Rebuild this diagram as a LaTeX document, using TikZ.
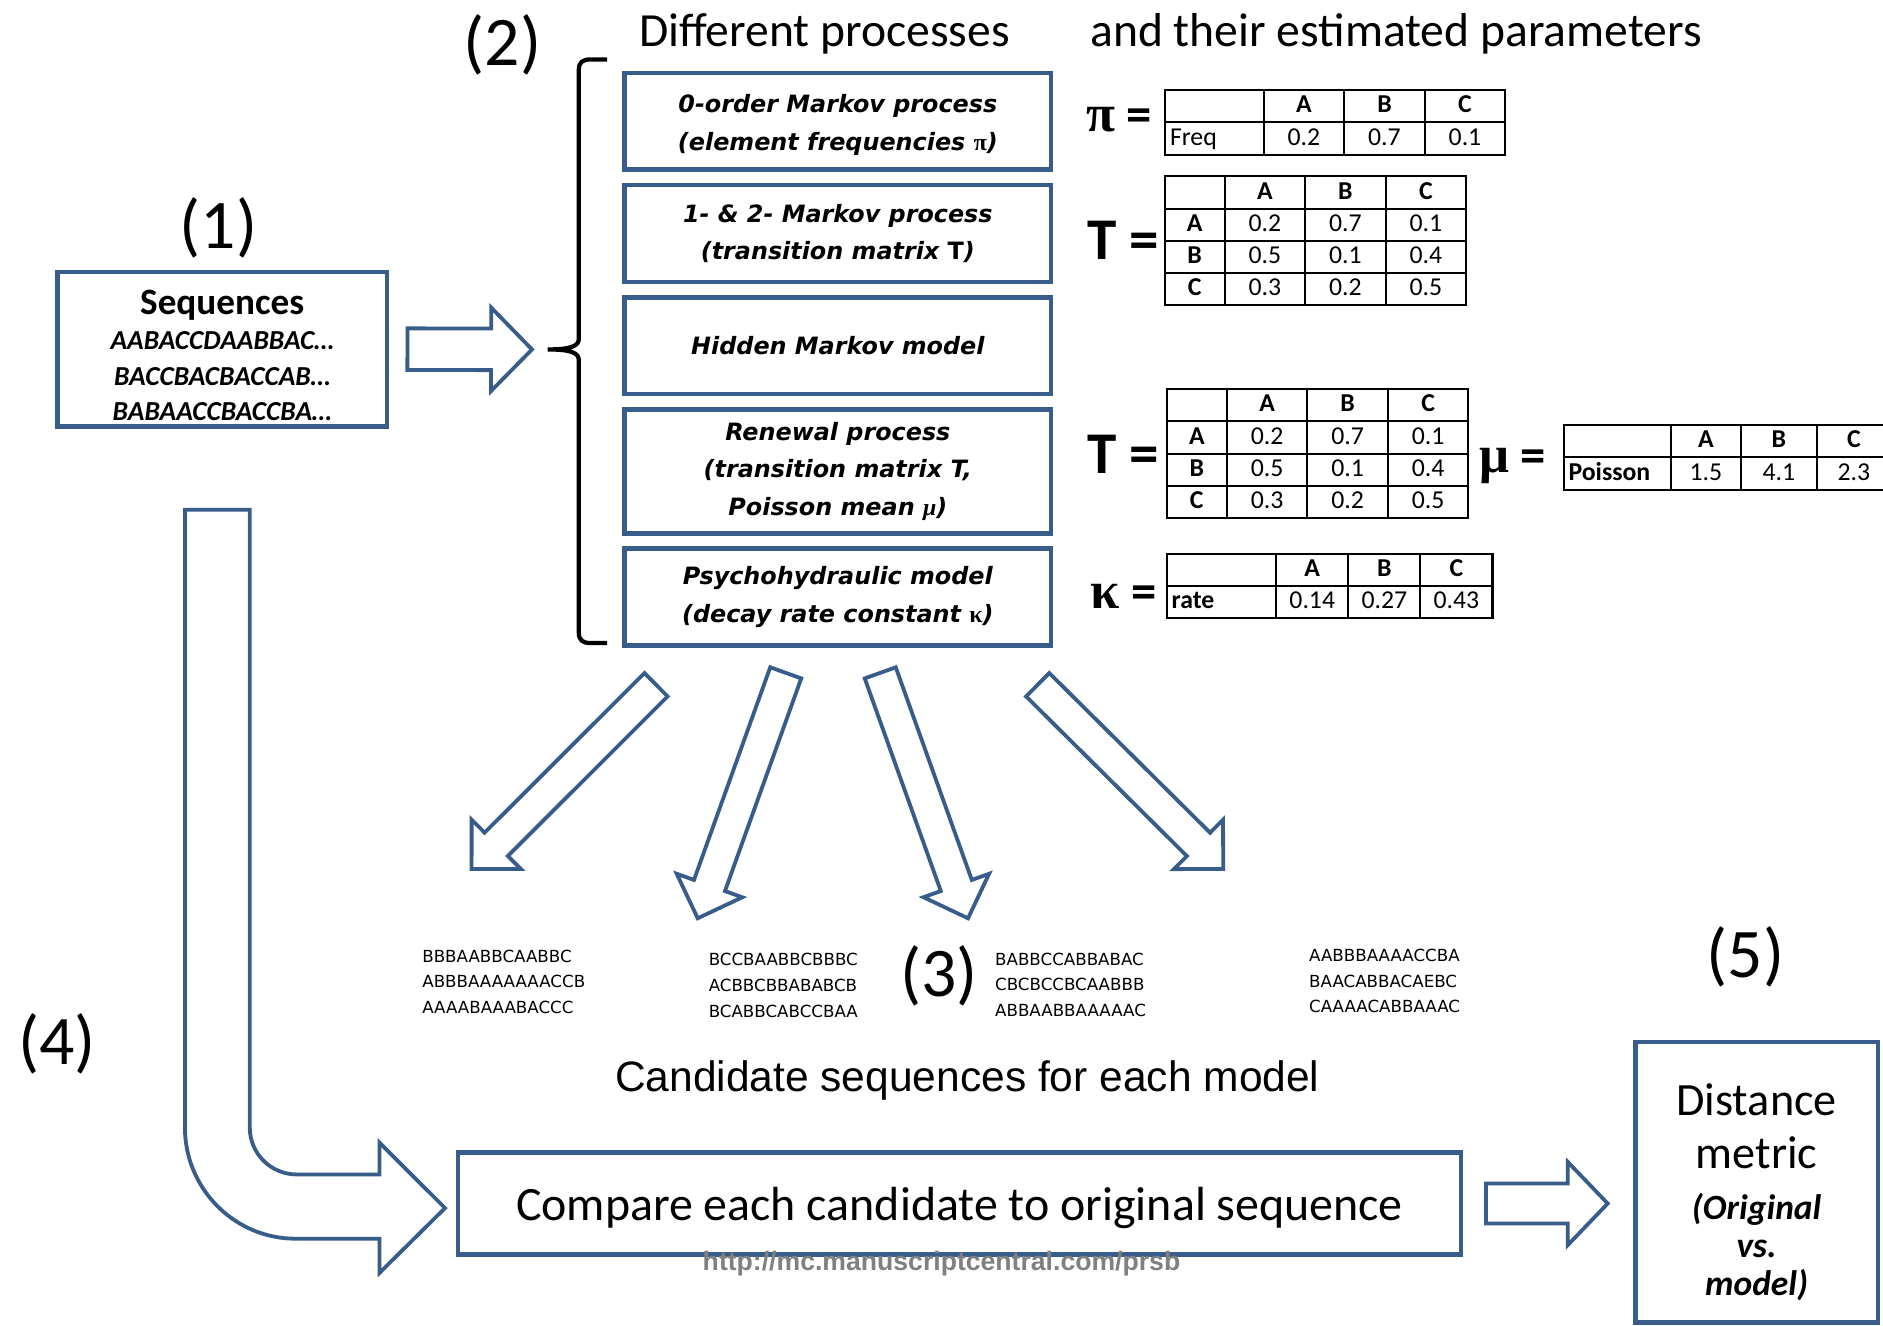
\documentclass[tikz,border=0pt]{standalone}
\usepackage{fontspec}
\setmainfont{Carlito}
\newfontfamily\verd{DejaVu Sans}
\newfontfamily\lsans{Liberation Sans}
\newfontfamily\serf{Liberation Serif}
\usetikzlibrary{positioning,calc,matrix}

\definecolor{boxblue}{RGB}{56,93,138}
\newcommand\tabfont{\fontsize{6.1}{7}\selectfont}
% block arrow: tail, tip, half shaft, half head, head length
\newcommand\fatarrow[5]{%
  \coordinate (fa) at ($(#2)!#5!(#1)$);
  \draw[fat] ($(#1)!#3!90:(#2)$) -- ($(fa)!#3!-90:(#1)$) -- ($(fa)!#4!-90:(#1)$) -- (#2)
    -- ($(fa)!#4!90:(#1)$) -- ($(fa)!#3!90:(#1)$) -- ($(#1)!#3!-90:(#2)$) -- cycle;}

\begin{document}
\begin{tikzpicture}[
  x=0.01cm, y=-0.01cm,
  box/.style={draw=boxblue, line width=1.1pt, fill=white, align=center, inner sep=0pt},
  proc/.style={box, minimum width=35.5mm, minimum height=8.05mm,
               font=\verd\bfseries\itshape\fontsize{5.65}{8.96}\selectfont},
  fat/.style={draw=boxblue, line width=0.9pt, fill=white, line join=miter},
  lbl/.style={font=\fontsize{16.5}{18}\selectfont, inner sep=0pt},
  head/.style={font=\fontsize{11.27}{13}\selectfont, inner sep=0pt},
  cand/.style={font=\verd\fontsize{3.95}{6.1}\selectfont, align=left, anchor=west, inner sep=0pt},
  eq/.style={anchor=base east, inner sep=0pt, font=\bfseries\fontsize{12}{12}\selectfont},
  tab/.style={matrix of nodes, inner sep=0pt, column sep=-0.5pt, row sep=-0.5pt,
    nodes={draw, line width=0.5pt, outer sep=0pt, inner sep=0pt, inner xsep=0.4mm,
           minimum width=6.7mm, minimum height=2.68mm, text height=1.55mm, text depth=0.45mm,
           font=\tabfont},
    row 1/.style={nodes={font=\tabfont\bfseries}}}]

\useasboundingbox (0,0) rectangle (1568,1104);

\node[head] (dp) at (686.5,28) {Different processes};
\node[head] (ep) at (1162.5,28) {and their estimated parameters};
\node[lbl] (n1) at (182,190) {(1)};
\node[lbl] (n2) at (418.5,37) {(2)};

\node[box, minimum width=27.45mm, minimum height=12.84mm,
      font=\bfseries\itshape\fontsize{6.5}{8.4}\selectfont] (seq) at (185,290.75)
  {{\upshape\fontsize{8.8}{8.4}\selectfont\rule{0pt}{8.8pt}Sequences}\\AABACCDAABBAC…\\BACCBACBACCAB…\\BABAACCBACCBA…};

\node[proc] (p0) at (697.7,101) {\rule{0pt}{6pt}0-order Markov process\\(element frequencies {\serf\upshape π})};
\node[proc, below=0.9mm of p0] (p1) {1- \& 2- Markov process\\(transition matrix {\upshape T})};
\node[proc, below=0.9mm of p1] (hmm) {Hidden Markov model};
\node[proc, below=0.9mm of hmm, minimum height=10.3mm] (ren) {Renewal process\\(transition matrix T,\\Poisson mean {\serf μ})};
\node[proc, below=0.9mm of ren] (psy) {Psychohydraulic model\\(decay rate constant {\serf\upshape κ})};

\coordinate (brace) at (456,291);
\draw[line width=1pt] (505.6,49.5) -- (492,49.5) .. controls (485,49.5) and (482,52) .. (482,58)
  -- (482,282) .. controls (482,288) and (476,291) .. (brace)
  .. controls (476,291) and (482,294) .. (482,300) -- (482,527)
  .. controls (482,533) and (485,535.5) .. (492,535.5) -- (505.6,535.5);

\coordinate (sa) at ($(seq.east)+(15,0)$);
\coordinate (sb) at ($(brace)+(-13,0)$);
\fatarrow{sa}{sb}{1.73mm}{3.47mm}{3.4mm}

\node[eq] (pil) at (960,109.6) {{\serf\fontsize{12.5}{12}\selectfont π} =};
\matrix[tab, anchor=north west,
  column 1/.style={nodes={minimum width=8.2mm, text width=7.4mm, align=left}}] (pitab) at (968.7,73.5)
  { \phantom{A} & A & B & C \\ Freq & 0.2 & 0.7 & 0.1 \\ };

\node[eq, font=\bfseries\fontsize{14}{14}\selectfont] (tl1) at (966,216) {T =};
\matrix[tab, anchor=north west,
  column 1/.style={nodes={minimum width=5mm, font=\tabfont\bfseries}}] (tmat1) at (968.2,145.3)
  { \phantom{A} & A & B & C \\ A & 0.2 & 0.7 & 0.1 \\ B & 0.5 & 0.1 & 0.4 \\ C & 0.3 & 0.2 & 0.5 \\ };

\node[eq, font=\bfseries\fontsize{14}{14}\selectfont] (tl2) at (966,394) {T =};
\matrix[tab, anchor=north west,
  column 1/.style={nodes={minimum width=5mm, font=\tabfont\bfseries}}] (tmat2) at (970,322.5)
  { \phantom{A} & A & B & C \\ A & 0.2 & 0.7 & 0.1 \\ B & 0.5 & 0.1 & 0.4 \\ C & 0.3 & 0.2 & 0.5 \\ };

\node[eq] (mul) at (1288,393.5) {{\serf\fontsize{12.5}{12}\selectfont μ} =};
\matrix[tab, anchor=north west,
  column 1/.style={nodes={minimum width=8.9mm, text width=8.1mm, align=left, font=\tabfont\bfseries}},
  column 2/.style={nodes={minimum width=5.85mm}},
  column 3/.style={nodes={minimum width=6.3mm}},
  column 4/.style={nodes={minimum width=6.2mm}}] (mutab) at (1300.6,352.5)
  { \phantom{A} & A & B & C \\ Poisson & 1.5 & 4.1 & 2.3 \\ };

\node[eq] (kal) at (964,506.6) {{\serf\fontsize{12.5}{12}\selectfont κ} =};
\matrix[tab, anchor=north west, nodes={minimum width=6mm},
  column 1/.style={nodes={minimum width=9.1mm, text width=8.3mm, align=left, font=\tabfont\bfseries}}] (kaptab) at (970.1,459.4)
  { \phantom{A} & A & B & C \\ rate & 0.14 & 0.27 & 0.43 \\ };

\coordinate (s1) at (546.3,570.2);  \coordinate (e1) at (392.7,723.6);
\coordinate (s2) at (654.3,560.3);  \coordinate (e2) at (581,764.7);
\coordinate (s3) at (733,560.3);    \coordinate (e3) at (806.1,764.7);
\coordinate (s4) at (864.1,570.2);  \coordinate (e4) at (1018.6,723.6);
\foreach \i in {1,...,4}
  {\fatarrow{s\i}{e\i}{1.37mm}{2.9mm}{2.9mm}}

\node[cand] (c1) at (351,817.5) {BBBAABBCAABBC\\ABBBAAAAAAACCB\\AAAABAAABACCC};
\node[cand] (c2) at (589.5,820.5) {BCCBAABBCBBBC\\ACBBCBBABABCB\\BCABBCABCCBAA};
\node[lbl] (n3) at (782,813) {(3)};
\node[cand] (c3) at (828,820) {BABBCCABBABAC\\CBCBCCBCAABBB\\ABBAABBAAAAAC};
\node[cand] (c4) at (1089.5,817) {AABBBAAAACCBA\\BAACABBACAEBC\\CAAAACABBAAAC};
\node[font=\lsans\fontsize{10.07}{12}\selectfont, inner sep=0pt] (capt) at (805.5,900) {Candidate sequences for each model};

\node[lbl] (n4) at (47.5,869) {(4)};
\node[lbl] (n5) at (1453.5,797) {(5)};

\draw[fat] (154,424.5) -- (154,939) .. controls (154,989.8) and (195.2,1031.5) .. (246,1031.5)
  -- (316,1031.5) -- (316,1060) -- (370.6,1006) -- (316,951.5) -- (316,978) -- (247,978)
  .. controls (225.5,978) and (208,960.5) .. (208,939) -- (208,424.5) -- cycle;

\node[box, minimum width=83.45mm, minimum height=8.49mm, font=\fontsize{11.34}{13}\selectfont] (cmp) at (799,1002.2)
  {\rule{0pt}{10.2pt}Compare each candidate to original sequence};
\node[box, minimum width=20.2mm, minimum height=23.35mm, font=\bfseries\itshape\fontsize{8.4}{9}\selectfont] (dist) at (1462.75,984.5)
  {{\mdseries\upshape\fontsize{10.95}{12}\selectfont\rule{0pt}{12.2pt}Distance}\\[3.5pt]{\mdseries\upshape\fontsize{10.95}{12}\selectfont metric}\\[3pt](Original\\vs.\\model)};

\coordinate (ca) at ($(cmp.east)+(19,0)$);
\coordinate (cb) at ($(cmp.east -| dist.west)+(-21,0)$);
\fatarrow{ca}{cb}{1.66mm}{3.47mm}{3.33mm}

\node[font=\lsans\bfseries\fontsize{6.3}{7}\selectfont, text=black!50, inner sep=0pt] (wm) at (784,1052)
  {http://mc.manuscriptcentral.com/prsb};

\end{tikzpicture}
\end{document}
